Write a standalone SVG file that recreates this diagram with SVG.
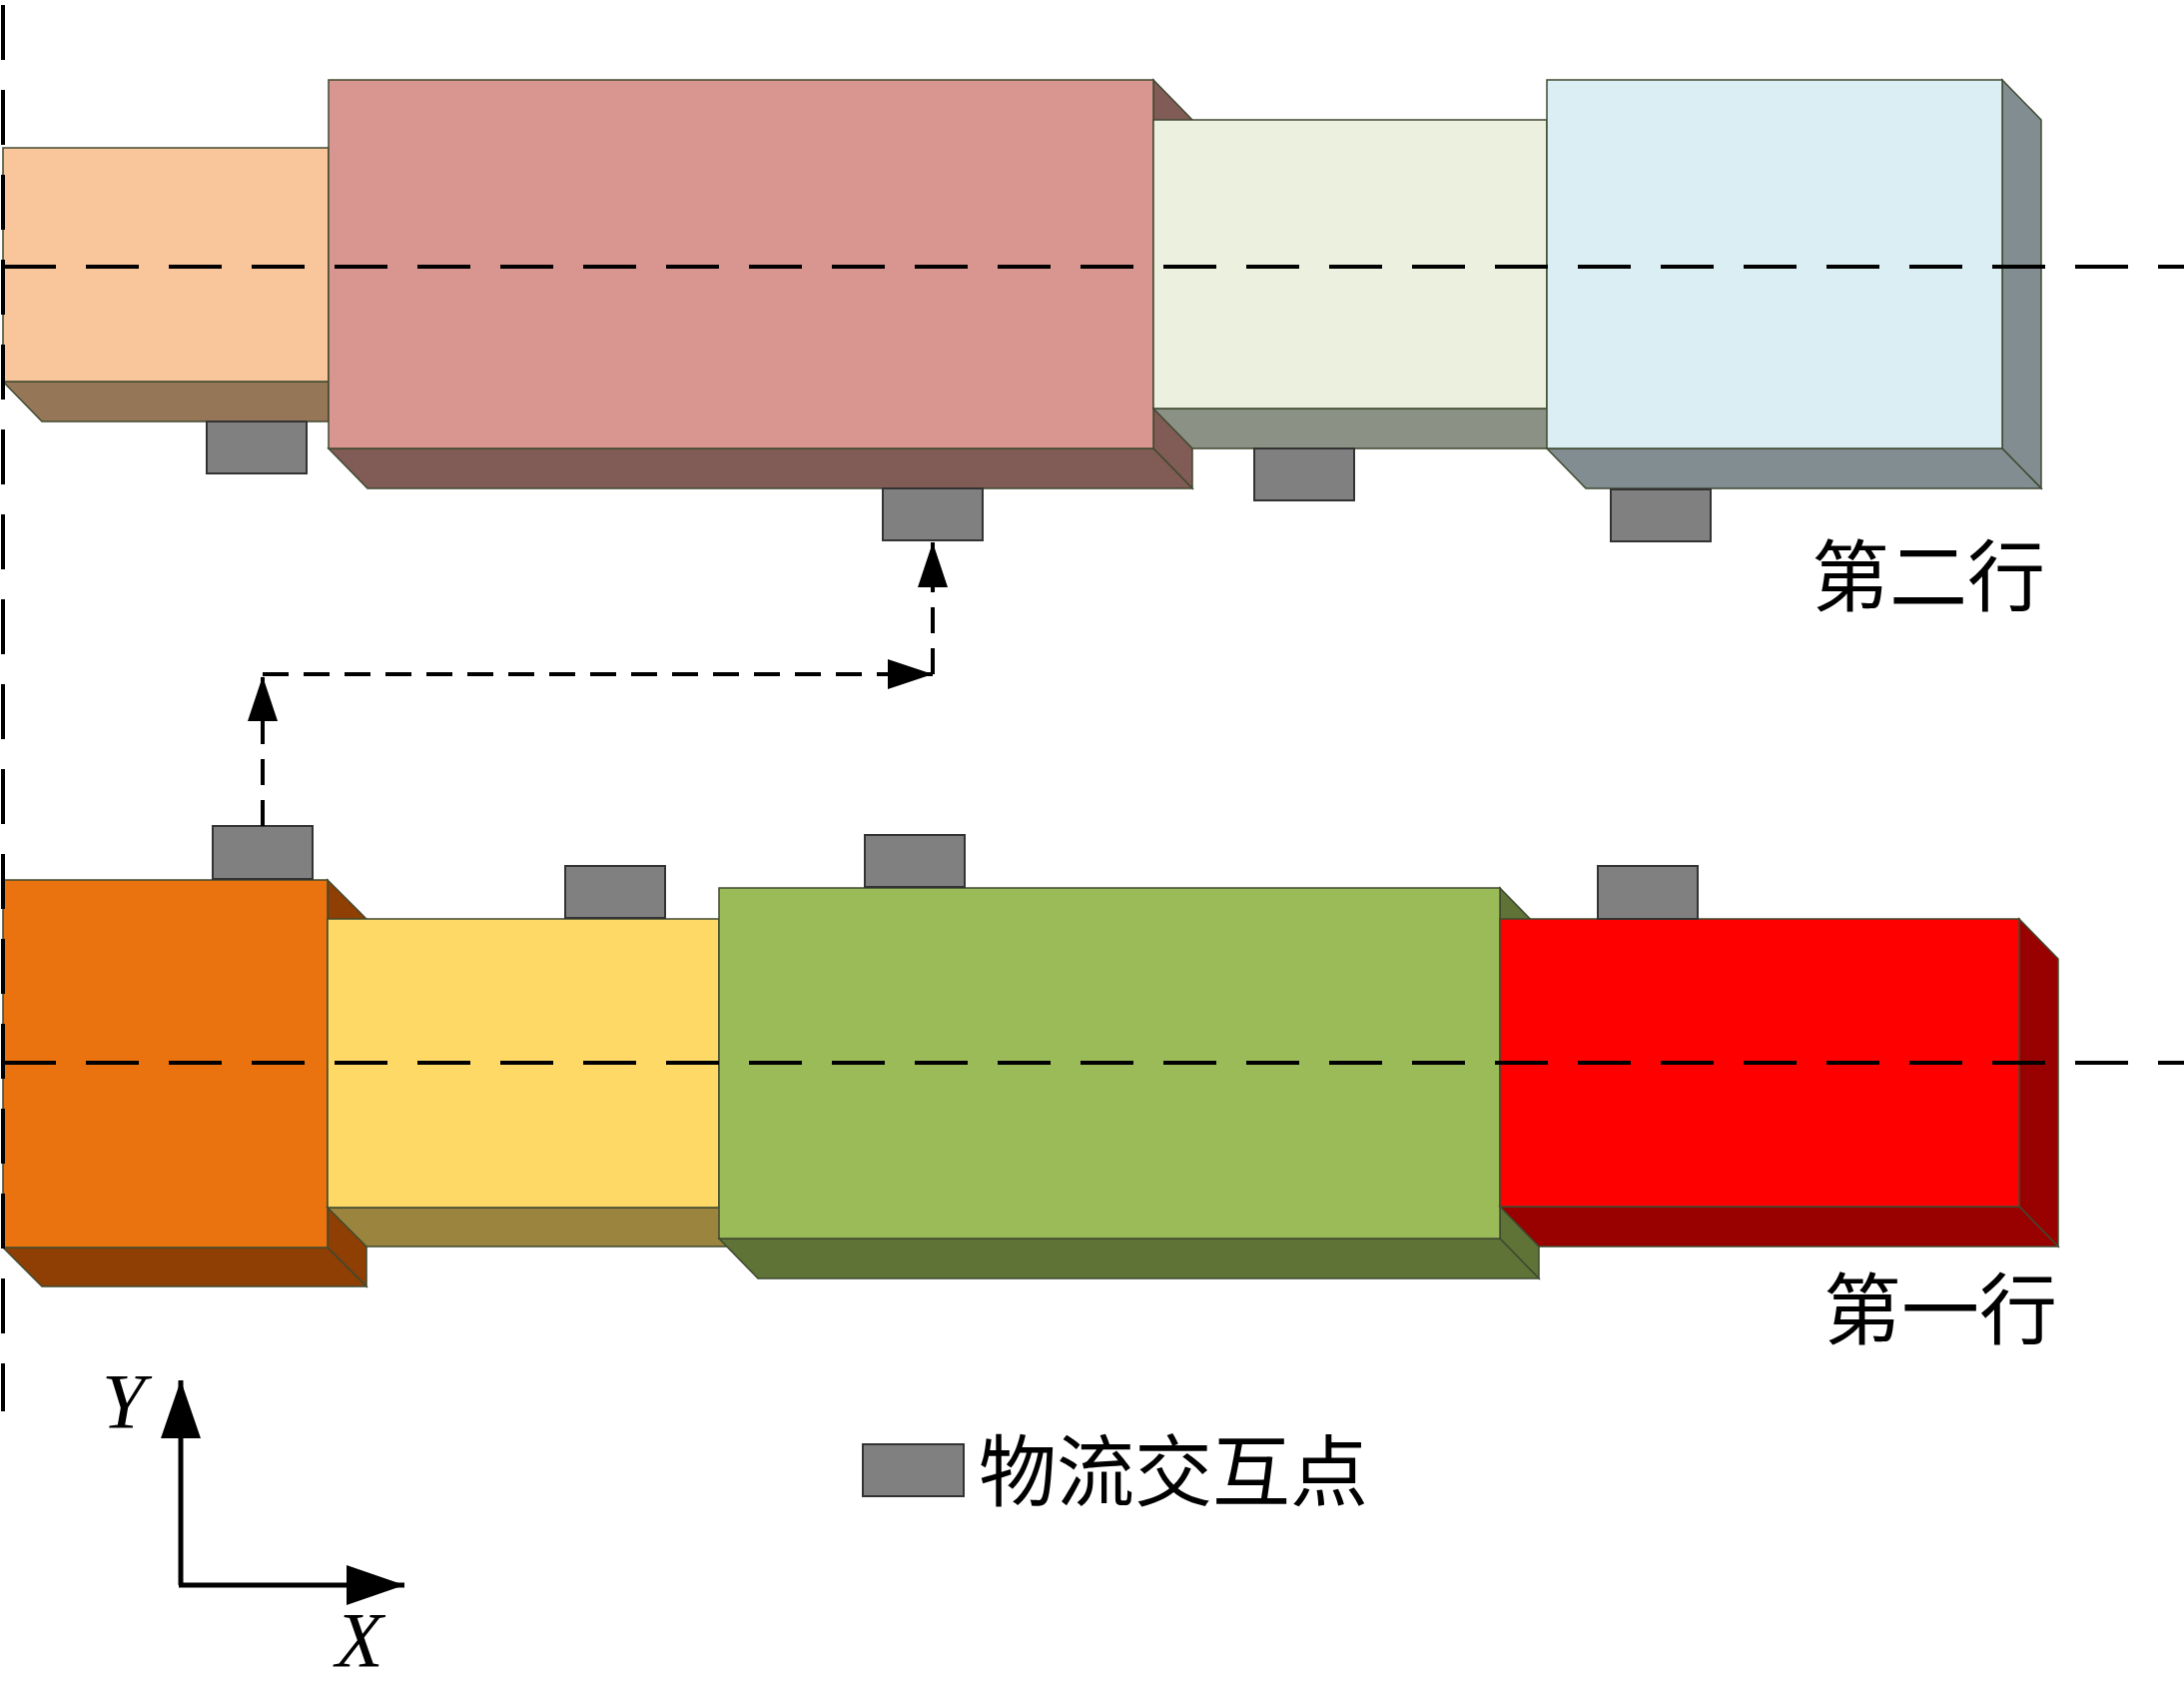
<svg xmlns="http://www.w3.org/2000/svg" width="2187" height="1688" viewBox="0 0 2187 1688">
<defs>
<style>
.face{stroke:#3f4a30;stroke-width:1.5;stroke-linejoin:miter}
.pt{fill:#808080;stroke:#333333;stroke-width:2}
.axis{fill:none;stroke:#000;stroke-width:4;stroke-dasharray:53 30}
.conn{fill:none;stroke:#000;stroke-width:4;stroke-dasharray:26 15}
.coord{fill:none;stroke:#000;stroke-width:5}
.cjk{font-family:"Noto Sans CJK SC","Noto Sans CJK JP",sans-serif;font-size:78px;fill:#000}
.lat{font-family:"Liberation Serif",serif;font-style:italic;font-size:78px;fill:#000}
</style>
<marker id="arr" viewBox="0 0 45 30" refX="45" refY="15" markerWidth="45" markerHeight="30" markerUnits="userSpaceOnUse" orient="auto">
<path d="M0,0 L45,15 L0,30 Z" fill="#000"/>
</marker>
<marker id="arrBig" viewBox="0 0 58 40" refX="58" refY="20" markerWidth="58" markerHeight="40" markerUnits="userSpaceOnUse" orient="auto">
<path d="M0,0 L58,20 L0,40 Z" fill="#000"/>
</marker>
</defs>
<rect width="2187" height="1688" fill="#fff"/>

<!-- Row 2 -->
<g id="r2-peach">
<polygon class="face" fill="#957758" points="3,382 329,382 329,422 42,422"/>
<rect class="face" fill="#F9C59B" x="3" y="148" width="326" height="234"/>
</g>
<g id="r2-peach-pt"><rect class="pt" x="207" y="422" width="100" height="52"/></g>
<g id="r2-rose">
<polygon class="face" fill="#815B56" points="1155,80 1194,120 1194,489 1155,449"/>
<polygon class="face" fill="#815B56" points="329,449 1155,449 1194,489 368,489"/>
<rect class="face" fill="#D9958F" x="329" y="80" width="826" height="369"/>
</g>
<g id="r2-rose-pt"><rect class="pt" x="884" y="489" width="100" height="52"/></g>
<g id="r2-green">
<polygon class="face" fill="#8C9185" points="1155,409 1549,409 1588,449 1194,449"/>
<rect class="face" fill="#EBF1DE" x="1155" y="120" width="394" height="289"/>
</g>
<g id="r2-green-pt"><rect class="pt" x="1256" y="449" width="100" height="52"/></g>
<g id="r2-blue">
<polygon class="face" fill="#818D90" points="2005,80 2044,120 2044,489 2005,449"/>
<polygon class="face" fill="#818D90" points="1549,449 2005,449 2044,489 1588,489"/>
<rect class="face" fill="#DAEEF3" x="1549" y="80" width="456" height="369"/>
</g>
<g id="r2-blue-pt"><rect class="pt" x="1613" y="490" width="100" height="52"/></g>

<!-- Row 1 -->
<g id="r1-orange">
<polygon class="face" fill="#8F3F03" points="328,881 367,920 367,1288 328,1249"/>
<polygon class="face" fill="#8F3F03" points="3,1249 328,1249 367,1288 42,1288"/>
<rect class="face" fill="#EA730F" x="3" y="881" width="325" height="368"/>
</g>
<g id="r1-orange-pt"><rect class="pt" x="213" y="827" width="100" height="53"/></g>
<g id="r1-yellow">
<polygon class="face" fill="#9B843D" points="328,1209 720,1209 759,1248 367,1248"/>
<rect class="face" fill="#FED966" x="328" y="920" width="392" height="289"/>
</g>
<g id="r1-yellow-pt"><rect class="pt" x="566" y="867" width="100" height="52"/></g>
<g id="r1-green">
<polygon class="face" fill="#5F7337" points="1502,889 1541,929 1541,1280 1502,1240"/>
<polygon class="face" fill="#5F7337" points="720,1240 1502,1240 1541,1280 759,1280"/>
<rect class="face" fill="#9BBB59" x="720" y="889" width="782" height="351"/>
</g>
<g id="r1-green-pt"><rect class="pt" x="866" y="836" width="100" height="52"/></g>
<g id="r1-red">
<polygon class="face" fill="#990000" points="2022,920 2061,960 2061,1248 2022,1208"/>
<polygon class="face" fill="#990000" points="1502,1208 2022,1208 2061,1248 1541,1248"/>
<rect class="face" fill="#FF0000" x="1502" y="920" width="520" height="288"/>
</g>
<g id="r1-red-pt"><rect class="pt" x="1600" y="867" width="100" height="53"/></g>

<!-- center / reference lines -->
<g id="guides">
<line class="axis" x1="3" y1="267" x2="2187" y2="267"/>
<line class="axis" x1="3" y1="1064" x2="2187" y2="1064"/>
<line class="axis" x1="3" y1="5" x2="3" y2="1413" style="stroke-dasharray:55 30"/>
</g>

<!-- connectors -->
<g id="connectors">
<path class="conn" d="M263,827 L263,677" marker-end="url(#arr)"/>
<path class="conn" d="M263,675 L934,675" marker-end="url(#arr)"/>
<path class="conn" d="M934,675 L934,543" marker-end="url(#arr)"/>
</g>

<!-- labels -->
<g id="label-row2"><text class="cjk" x="1814" y="606">第二行</text></g>
<g id="label-row1"><text class="cjk" x="1826" y="1340">第一行</text></g>

<!-- legend -->
<g id="legend">
<rect class="pt" x="864" y="1446" width="101" height="52"/>
<text class="cjk" x="980" y="1502">物流交互点</text>
</g>

<!-- coordinate axes -->
<g id="coord-axes">
<path class="coord" d="M181,1587 L181,1382" marker-end="url(#arrBig)"/>
<path class="coord" d="M179,1587 L405,1587" marker-end="url(#arrBig)"/>
<text class="lat" x="102" y="1429">Y</text>
<text class="lat" x="336" y="1668">X</text>
</g>
</svg>
